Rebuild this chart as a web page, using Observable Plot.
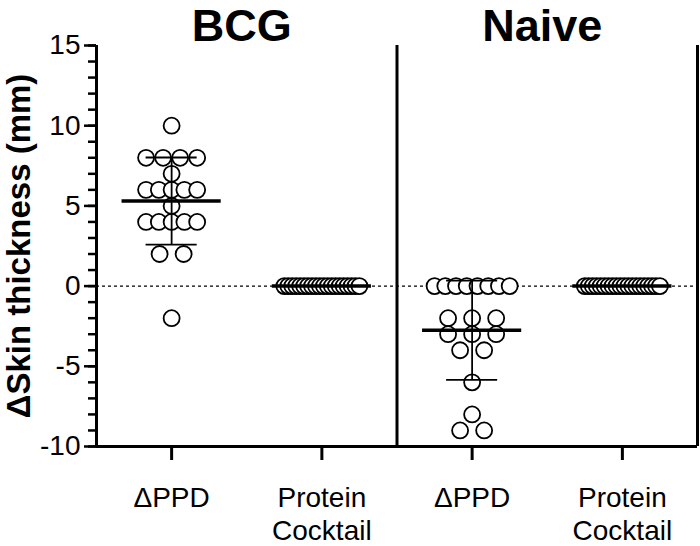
<!DOCTYPE html>
<html>
<head>
<meta charset="utf-8">
<script src="https://cdn.jsdelivr.net/npm/d3@7"></script>
<script src="https://cdn.jsdelivr.net/npm/@observablehq/plot@0.6"></script>
<style>
  html, body { margin: 0; padding: 0; background: #fff; }
</style>
</head>
<body>
<div id="chart"></div>
<script>
const categories = ["\u0394PPD", "Protein\nCocktail", "\u0394PPD", "Protein\nCocktail"];
const groups = ["BCG", "Naive"];
const bcgPPD = [10, 8, 8, 8, 8, 7, 6, 6, 6, 6, 6, 5, 4, 4, 4, 4, 4, 2, 2, -2];
const bcgProtein = [0, 0, 0, 0, 0, 0, 0, 0, 0, 0, 0, 0, 0, 0, 0, 0, 0, 0, 0, 0];
const naivePPD = [0, 0, 0, 0, 0, 0, 0, 0, -2, -2, -2, -3, -3, -3, -4, -4, -6, -8, -9, -9];
const naiveProtein = [0, 0, 0, 0, 0, 0, 0, 0, 0, 0, 0, 0, 0, 0, 0, 0, 0, 0, 0, 0];
const yTicks = [-10, -5, 0, 5, 10, 15];
const yMinorTicks = d3.range(-10, 16);

const series = [bcgPPD, bcgProtein, naivePPD, naiveProtein];

// column-scatter layout: spread tied values horizontally
const points = [];
series.forEach((vals, col) => {
  const byVal = d3.group(vals, v => v);
  for (const [v, arr] of byVal) {
    const n = arr.length;
    const span = n <= 5 ? 0.34 : 0.5;
    const s = n > 1 ? Math.min(0.16, span / (n - 1)) : 0;
    arr.forEach((_, i) => points.push({col, value: v, off: (i - (n - 1) / 2) * s}));
  }
});

const stats = series.map((vals, col) => ({
  col,
  mean: d3.mean(vals),
  sd: d3.deviation(vals) || 0
}));
const statsSd = stats.filter(d => d.sd > 0);

const font = "'Liberation Sans', Arial, Helvetica, sans-serif";

const chart = Plot.plot({
  width: 700,
  height: 546,
  marginLeft: 96,
  marginRight: 3,
  marginTop: 45,
  marginBottom: 100,
  style: {fontFamily: font, color: "black", background: "white", overflow: "visible"},
  x: {domain: [-0.5, 3.5]},
  y: {domain: [-10, 15]},
  marks: [
    Plot.ruleY([0], {x1: -0.5, x2: 3.5, strokeDasharray: "3,3", strokeWidth: 1.3}),
    Plot.dot(points, {x: d => d.col + d.off, y: "value", r: 8, fill: "white", stroke: "black", strokeWidth: 1.8}),
    Plot.ruleX(statsSd, {x: "col", y1: d => d.mean - d.sd, y2: d => d.mean + d.sd, strokeWidth: 1.8}),
    Plot.ruleY(statsSd, {y: d => d.mean + d.sd, x1: d => d.col - 0.17, x2: d => d.col + 0.17, strokeWidth: 1.8}),
    Plot.ruleY(statsSd, {y: d => d.mean - d.sd, x1: d => d.col - 0.17, x2: d => d.col + 0.17, strokeWidth: 1.8}),
    Plot.ruleY(stats, {y: "mean", x1: d => d.col - 0.33, x2: d => d.col + 0.33, strokeWidth: 3.5}),
    Plot.axisY({ticks: yMinorTicks, tickSize: 8, text: null, strokeWidth: 2.5}),
    Plot.axisY({ticks: yTicks, tickSize: 12, tickPadding: 4, tickFormat: d => String(d), fontSize: 28, strokeWidth: 2.5, label: null}),
    Plot.axisX({ticks: [0, 1, 2, 3], tickSize: 14, text: null, strokeWidth: 3, label: null}),
    Plot.ruleX([-0.5, 1.5, 3.5], {strokeWidth: 3}),
    Plot.ruleY([-10], {strokeWidth: 3}),
    Plot.text(categories, {x: (d, i) => i, text: d => d, frameAnchor: "bottom", dy: 37, lineAnchor: "top", fontSize: 28, lineHeight: 1.18}),
    Plot.text(groups, {x: (d, i) => 2 * i + 0.5, text: d => d, frameAnchor: "top", dx: -5, dy: -5, lineAnchor: "bottom", fontSize: 45, fontWeight: "bold"}),
    Plot.text(["\u0394Skin thickness (mm)"], {frameAnchor: "left", dx: -77, dy: 0, rotate: -90, textAnchor: "middle", lineAnchor: "middle", fontSize: 33, fontWeight: "bold"})
  ]
});
document.getElementById("chart").appendChild(chart);
</script>
</body>
</html>
